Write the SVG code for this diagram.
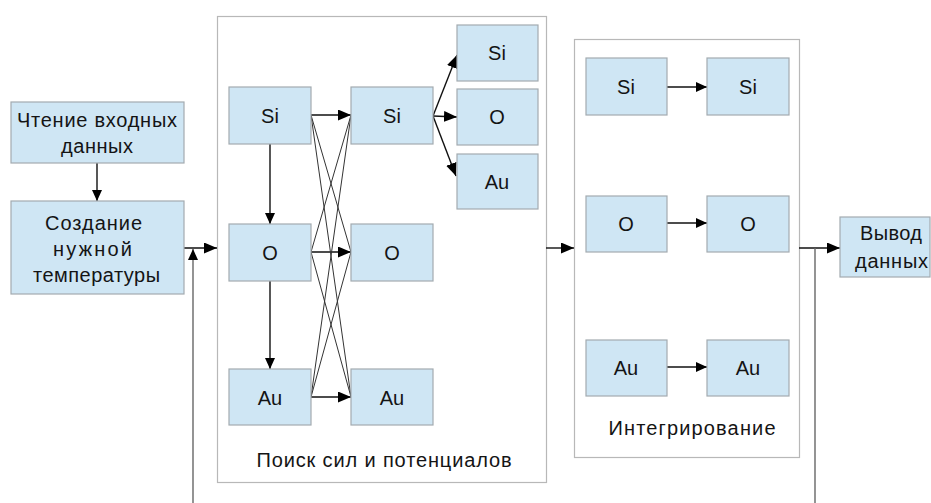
<svg xmlns="http://www.w3.org/2000/svg" width="931" height="503" viewBox="0 0 931 503">
<style>
.node{fill:#cfe6f4;stroke:#a3abb0;stroke-width:1.2}
.frame{fill:#ffffff;stroke:#b8b8b8;stroke-width:1.2}
.t{font-family:"Liberation Sans",Arial,sans-serif;font-size:20px;fill:#141414;text-anchor:middle}
.c{stroke:#111;stroke-width:1.4;fill:none}
.x{stroke:#333;stroke-width:1;fill:none}
.g{stroke:#666;stroke-width:1.4;fill:none}
</style>
<defs>
<marker id="ah" markerUnits="userSpaceOnUse" markerWidth="14" markerHeight="12" refX="13" refY="5.5" orient="auto">
<path d="M0,0 L13,5.5 L0,11 Z" fill="#000"/>
</marker>
<marker id="as" markerUnits="userSpaceOnUse" markerWidth="12" markerHeight="11" refX="11" refY="5" orient="auto">
<path d="M0,0 L11,5 L0,10 Z" fill="#000"/>
</marker>
</defs>
<rect width="931" height="503" fill="#fff"/>

<g id="frame-forces">
<rect class="frame" x="217.5" y="16.5" width="329" height="466"/>
<text class="t" x="384" y="467" textLength="255" lengthAdjust="spacing">Поиск сил и потенциалов</text>
</g>
<g id="frame-integration">
<rect class="frame" x="574.5" y="39.5" width="225" height="418"/>
<text class="t" x="692" y="435" textLength="167" lengthAdjust="spacing">Интегрирование</text>
</g>

<g id="connectors">
<line class="c" x1="97" y1="163" x2="97" y2="201" marker-end="url(#as)"/>
<line class="c" x1="184" y1="248" x2="217" y2="248" marker-end="url(#ah)"/>
<line class="g" x1="193" y1="503" x2="193" y2="249" marker-end="url(#as)"/>
<line class="c" x1="546" y1="248" x2="574" y2="248" marker-end="url(#ah)"/>
<line class="c" x1="799" y1="248" x2="840" y2="248" marker-end="url(#ah)"/>
<line class="g" x1="815" y1="248" x2="815" y2="503"/>

<line class="c" x1="270" y1="144" x2="270" y2="224" marker-end="url(#as)"/>
<line class="c" x1="270" y1="281" x2="270" y2="369" marker-end="url(#as)"/>
<line class="c" x1="311" y1="115" x2="351" y2="115" marker-end="url(#ah)"/>
<line class="c" x1="311" y1="252" x2="351" y2="252" marker-end="url(#ah)"/>
<line class="c" x1="311" y1="397" x2="351" y2="397" marker-end="url(#ah)"/>
<line class="x" x1="311" y1="115" x2="351" y2="252"/>
<line class="x" x1="311" y1="115" x2="351" y2="397"/>
<line class="x" x1="311" y1="252" x2="351" y2="115"/>
<line class="x" x1="311" y1="252" x2="351" y2="397"/>
<line class="x" x1="311" y1="397" x2="351" y2="115"/>
<line class="x" x1="311" y1="397" x2="351" y2="252"/>

<line class="c" x1="433" y1="116" x2="457" y2="55" marker-end="url(#ah)"/>
<line class="c" x1="433" y1="116" x2="457" y2="117" marker-end="url(#ah)"/>
<line class="c" x1="433" y1="116" x2="456" y2="176" marker-end="url(#ah)"/>

<line class="c" x1="667" y1="87" x2="707" y2="87" marker-end="url(#as)"/>
<line class="c" x1="667" y1="223" x2="707" y2="223" marker-end="url(#as)"/>
<line class="c" x1="667" y1="367" x2="707" y2="367" marker-end="url(#as)"/>
</g>

<g id="n-read">
<rect class="node" x="11" y="102" width="173" height="61"/>
<text class="t" x="97" y="127" textLength="160" lengthAdjust="spacing">Чтение входных</text>
<text class="t" x="97" y="153" textLength="72" lengthAdjust="spacing">данных</text>
</g>
<g id="n-temp">
<rect class="node" x="11" y="201" width="173" height="93"/>
<text class="t" x="93.5" y="230" textLength="97" lengthAdjust="spacing">Создание</text>
<text class="t" x="92.5" y="256" textLength="79" lengthAdjust="spacing">нужной</text>
<text class="t" x="96.5" y="282" textLength="127" lengthAdjust="spacing">температуры</text>
</g>
<g id="n-out">
<rect class="node" x="840" y="217" width="90" height="60"/>
<text class="t" x="891" y="240" textLength="62" lengthAdjust="spacing">Вывод</text>
<text class="t" x="891.5" y="268" textLength="73" lengthAdjust="spacing">данных</text>
</g>

<g id="n-si1"><rect class="node" x="229" y="87" width="82" height="57"/><text class="t" x="270" y="123">Si</text></g>
<g id="n-o1"><rect class="node" x="229" y="224" width="82" height="57"/><text class="t" x="270" y="260">O</text></g>
<g id="n-au1"><rect class="node" x="229" y="369" width="82" height="56"/><text class="t" x="270" y="405">Au</text></g>
<g id="n-si2"><rect class="node" x="351" y="87" width="82" height="57"/><text class="t" x="392" y="123">Si</text></g>
<g id="n-o2"><rect class="node" x="351" y="224" width="82" height="57"/><text class="t" x="392" y="260">O</text></g>
<g id="n-au2"><rect class="node" x="351" y="369" width="82" height="56"/><text class="t" x="392" y="405">Au</text></g>
<g id="n-si3"><rect class="node" x="457" y="25" width="81" height="56"/><text class="t" x="497" y="60">Si</text></g>
<g id="n-o3"><rect class="node" x="457" y="89" width="81" height="56"/><text class="t" x="497" y="124">O</text></g>
<g id="n-au3"><rect class="node" x="457" y="154" width="81" height="55"/><text class="t" x="497" y="189">Au</text></g>

<g id="n-si4"><rect class="node" x="586" y="58" width="81" height="57"/><text class="t" x="626" y="94">Si</text></g>
<g id="n-si5"><rect class="node" x="707" y="58" width="82" height="57"/><text class="t" x="748" y="94">Si</text></g>
<g id="n-o4"><rect class="node" x="586" y="196" width="81" height="56"/><text class="t" x="626" y="231">O</text></g>
<g id="n-o5"><rect class="node" x="707" y="196" width="82" height="56"/><text class="t" x="748" y="231">O</text></g>
<g id="n-au4"><rect class="node" x="586" y="340" width="81" height="56"/><text class="t" x="626" y="375">Au</text></g>
<g id="n-au5"><rect class="node" x="707" y="340" width="82" height="56"/><text class="t" x="748" y="375">Au</text></g>
</svg>
